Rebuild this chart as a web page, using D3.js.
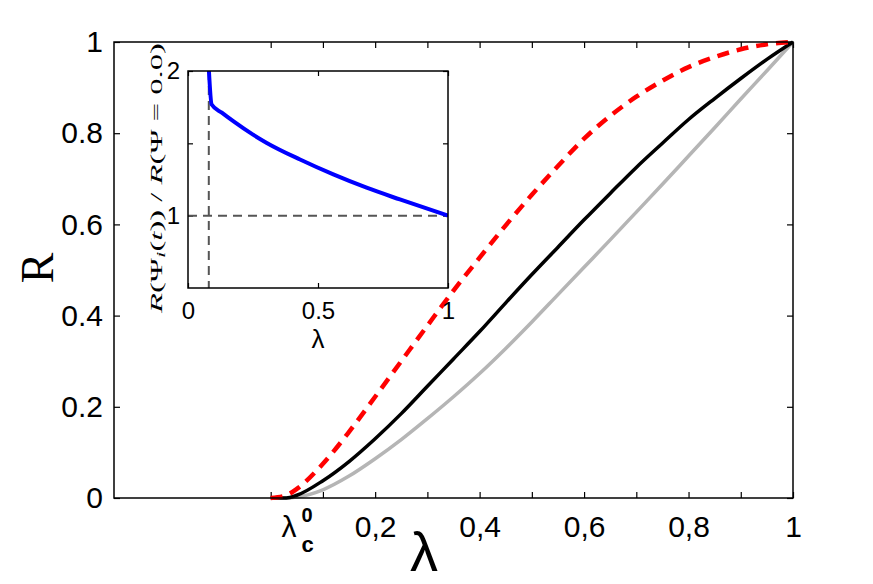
<!DOCTYPE html>
<html>
<head>
<meta charset="utf-8">
<script src="https://cdn.jsdelivr.net/npm/d3@7"></script>
<style>
  body { margin: 0; background: #fff; }
</style>
</head>
<body>
<div id="chart"></div>
<script>
//Main panel data
var lambdaVals = [0, 0.03, 0.05, 0.1, 0.15, 0.2, 0.25, 0.3, 0.35, 0.4, 0.45, 0.5, 0.55, 0.6, 0.65, 0.7, 0.75, 0.8, 0.85, 0.9, 0.95, 1.0];
var rBlack = [0, 0, 0.006, 0.038, 0.08, 0.13, 0.185, 0.245, 0.305, 0.365, 0.428, 0.49, 0.55, 0.61, 0.668, 0.725, 0.778, 0.83, 0.876, 0.92, 0.962, 1.0];
var rRed   = [0, 0.006, 0.02, 0.075, 0.145, 0.222, 0.3, 0.378, 0.455, 0.527, 0.598, 0.665, 0.728, 0.788, 0.838, 0.88, 0.915, 0.945, 0.967, 0.984, 0.995, 1.0];
var rGray  = [0, 0, 0.002, 0.018, 0.048, 0.086, 0.128, 0.174, 0.222, 0.273, 0.328, 0.386, 0.446, 0.506, 0.566, 0.627, 0.688, 0.75, 0.812, 0.875, 0.937, 1.0];
var lambdaC = 0.04;

var xTickVals = [0, 0.1, 0.2, 0.3, 0.4, 0.5, 0.6, 0.7, 0.8, 0.9, 1];
var xTickLabels = ['', '', '0,2', '', '0,4', '', '0,6', '', '0,8', '', '1'];
var yTickVals = [0, 0.2, 0.4, 0.6, 0.8, 1];
var yTickLabels = ['0', '0.2', '0.4', '0.6', '0.8', '1'];

//Inset data
var insetLambda = [0.079, 0.091, 0.13, 0.174, 0.25, 0.303, 0.431, 0.559, 0.687, 0.815, 1.0];
var insetRatio  = [2.05, 1.768, 1.712, 1.653, 1.56, 1.503, 1.388, 1.285, 1.193, 1.112, 1.0];
var insetCritical = 0.08;
var insetXTicks = [0, 0.5, 1];
var insetXLabels = ['0', '0.5', '1'];
var insetYTicks = [1, 1.5, 2];
var insetYLabels = ['1', '', '2'];

var sans = '"Liberation Sans", Arial, sans-serif';
var serif = '"Liberation Serif", "DejaVu Serif", serif';

var width = 873, height = 584;
var svg = d3.select('#chart').append('svg').attr('width', width).attr('height', height)
  .attr('font-family', sans);

//Main scales
var x = d3.scaleLinear().domain([-0.3, 1]).range([114, 793]);
var y = d3.scaleLinear().domain([0, 1]).range([498, 42]);

function styleAxis(g, size) {
  g.select('.domain').remove();
  g.selectAll('line').attr('stroke', '#000').attr('stroke-width', 1.2);
  g.selectAll('text').attr('font-size', size).attr('fill', '#000').attr('font-family', sans);
}

svg.append('g').attr('transform', 'translate(0,498)')
  .call(d3.axisBottom(x).tickValues(xTickVals).tickSize(-6).tickSizeOuter(0).tickPadding(18)
    .tickFormat(function(d, i) { return xTickLabels[i]; }))
  .call(styleAxis, 30);
svg.append('g').attr('transform', 'translate(0,42)')
  .call(d3.axisTop(x).tickValues(xTickVals).tickSize(-6).tickSizeOuter(0).tickFormat(''))
  .call(styleAxis, 30);
svg.append('g').attr('transform', 'translate(114,0)')
  .call(d3.axisLeft(y).tickValues(yTickVals).tickSize(-6).tickSizeOuter(0).tickPadding(11)
    .tickFormat(function(d, i) { return yTickLabels[i]; }))
  .call(styleAxis, 30);
svg.append('g').attr('transform', 'translate(793,0)')
  .call(d3.axisRight(y).tickValues(yTickVals).tickSize(-6).tickSizeOuter(0).tickFormat(''))
  .call(styleAxis, 30);

//Curves
function series(vals) {
  return lambdaVals.map(function(l, i) { return [l, vals[i]]; });
}
var line = d3.line().x(function(d) { return x(d[0]); }).y(function(d) { return y(d[1]); })
  .curve(d3.curveMonotoneX);

svg.append('path').datum(series(rGray)).attr('d', line)
  .attr('fill', 'none').attr('stroke', '#b5b5b5').attr('stroke-width', 3.5);
svg.append('path').datum(series(rBlack)).attr('d', line)
  .attr('fill', 'none').attr('stroke', '#000').attr('stroke-width', 3.5);
svg.append('path').datum(series(rRed)).attr('d', line)
  .attr('fill', 'none').attr('stroke', '#ff0000').attr('stroke-width', 4.5)
  .attr('stroke-dasharray', '12,8');

//Frame
svg.append('rect').attr('x', 114).attr('y', 42).attr('width', 793 - 114).attr('height', 498 - 42)
  .attr('fill', 'none').attr('stroke', '#000').attr('stroke-width', 1.5);

//lambda_c^0 label
var lc = svg.append('g').attr('transform', 'translate(' + (x(lambdaC) - 10) + ',0)');
lc.append('text').attr('x', 0).attr('y', 537).attr('font-size', 30).text('λ');
lc.append('text').attr('x', 20).attr('y', 522).attr('font-size', 20).attr('font-weight', 'bold').text('0');
lc.append('text').attr('x', 20).attr('y', 552).attr('font-size', 22).attr('font-weight', 'bold').text('c');

//Axis titles
svg.append('text').attr('x', 424).attr('y', 571).attr('text-anchor', 'middle')
  .attr('font-size', 56).text('λ');
svg.append('text').attr('transform', 'translate(53,268) rotate(-90)').attr('text-anchor', 'middle')
  .attr('font-family', serif).attr('font-size', 46).text('R');

//Inset
var ix = d3.scaleLinear().domain([0, 1]).range([188, 448]);
var iy = d3.scaleLinear().domain([0.5, 2]).range([288, 71]);

svg.append('rect').attr('x', 188).attr('y', 71).attr('width', 260).attr('height', 217).attr('fill', '#fff');
svg.append('clipPath').attr('id', 'insetClip').append('rect')
  .attr('x', 188).attr('y', 71).attr('width', 260).attr('height', 217);

svg.append('g').attr('transform', 'translate(0,288)')
  .call(d3.axisBottom(ix).tickValues(insetXTicks).tickSize(-5).tickSizeOuter(0).tickPadding(14)
    .tickFormat(function(d, i) { return insetXLabels[i]; }))
  .call(styleAxis, 24);
svg.append('g').attr('transform', 'translate(0,71)')
  .call(d3.axisTop(ix).tickValues(insetXTicks).tickSize(-5).tickSizeOuter(0).tickFormat(''))
  .call(styleAxis, 24);
svg.append('g').attr('transform', 'translate(188,0)')
  .call(d3.axisLeft(iy).tickValues(insetYTicks).tickSize(-5).tickSizeOuter(0).tickPadding(8)
    .tickFormat(function(d, i) { return insetYLabels[i]; }))
  .call(styleAxis, 24);
svg.append('g').attr('transform', 'translate(448,0)')
  .call(d3.axisRight(iy).tickValues(insetYTicks).tickSize(-5).tickSizeOuter(0).tickFormat(''))
  .call(styleAxis, 24);

//dashed guides
svg.append('line').attr('x1', ix(insetCritical)).attr('x2', ix(insetCritical))
  .attr('y1', iy(2)).attr('y2', iy(0.5))
  .attr('stroke', '#555').attr('stroke-width', 2).attr('stroke-dasharray', '9,6');
svg.append('line').attr('x1', ix(0)).attr('x2', ix(1)).attr('y1', iy(1)).attr('y2', iy(1))
  .attr('stroke', '#555').attr('stroke-width', 2).attr('stroke-dasharray', '9,6');

var iline = d3.line().x(function(d) { return ix(d[0]); }).y(function(d) { return iy(d[1]); })
  .curve(d3.curveMonotoneX);
svg.append('path').datum(insetLambda.map(function(l, i) { return [l, insetRatio[i]]; }))
  .attr('d', iline).attr('clip-path', 'url(#insetClip)')
  .attr('fill', 'none').attr('stroke', '#0000ff').attr('stroke-width', 4);

svg.append('rect').attr('x', 188).attr('y', 71).attr('width', 260).attr('height', 217)
  .attr('fill', 'none').attr('stroke', '#000').attr('stroke-width', 1.5);

svg.append('text').attr('x', 318).attr('y', 348).attr('text-anchor', 'middle')
  .attr('font-size', 26).text('λ');

//Inset y title, math-style
var it = svg.append('text').attr('transform', 'translate(162,178) rotate(-90)')
  .attr('text-anchor', 'middle').attr('font-family', serif)
  .attr('font-size', 17).attr('textLength', 270).attr('lengthAdjust', 'spacingAndGlyphs');
it.append('tspan').attr('font-style', 'italic').text('R');
it.append('tspan').text('(Ψ');
it.append('tspan').attr('font-style', 'italic').attr('font-size', 12).attr('dy', 3).text('i');
it.append('tspan').attr('dy', -3).text('(');
it.append('tspan').attr('font-style', 'italic').text('t');
it.append('tspan').text('))  /  ');
it.append('tspan').attr('font-style', 'italic').text('R');
it.append('tspan').text('(Ψ = 0.0)');
</script>
</body>
</html>
